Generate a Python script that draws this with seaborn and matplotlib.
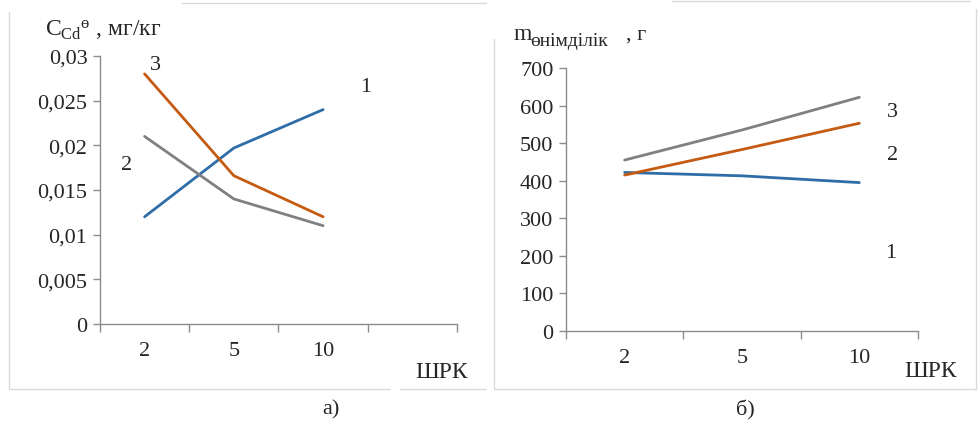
import numpy as np
import pandas as pd
import matplotlib
matplotlib.use('Agg')
import matplotlib.pyplot as plt
import seaborn as sns
from matplotlib.lines import Line2D

# data
shrk = ['2', '5', '10']
cd_1 = [0.012, 0.0197, 0.024]
cd_2 = [0.021, 0.014, 0.011]
cd_3 = [0.028, 0.0166, 0.012]
mass_1 = [422, 413, 395]
mass_2 = [415, 483, 553]
mass_3 = [455, 535, 622]
cd_ticks = [0, 0.005, 0.01, 0.015, 0.02, 0.025, 0.03]
cd_ticklabels = ['0', '0,005', '0,01', '0,015', '0,02', '0,025', '0,03']
mass_ticks = [0, 100, 200, 300, 400, 500, 600, 700]

sns.set_style('white')
plt.rcParams['font.family'] = ['Liberation Serif', 'DejaVu Serif']
plt.rcParams['mathtext.fontset'] = 'custom'
plt.rcParams['mathtext.rm'] = 'Liberation Serif'
plt.rcParams['mathtext.it'] = 'Liberation Serif:italic'

FS = 16
blue = '#2E6DA8'
orange = '#C55A11'
gray = '#808080'
axis_col = '#8C8C8C'

x = list(range(len(shrk)))
df_cd = pd.DataFrame({
    'x': x * 3,
    'val': cd_1 + cd_2 + cd_3,
    'curve': ['1'] * 3 + ['2'] * 3 + ['3'] * 3,
})
df_m = pd.DataFrame({
    'x': x * 3,
    'val': mass_1 + mass_2 + mass_3,
    'curve': ['1'] * 3 + ['2'] * 3 + ['3'] * 3,
})

fig = plt.figure(figsize=(9.79, 4.27), dpi=100)
ax1 = fig.add_axes([0.1021, 0.2389, 0.3647, 0.6276])
ax2 = fig.add_axes([0.5781, 0.2225, 0.3596, 0.6159])

sns.lineplot(data=df_cd, x='x', y='val', hue='curve', ax=ax1, legend=False,
             palette={'1': blue, '2': gray, '3': orange}, linewidth=2)
sns.lineplot(data=df_m, x='x', y='val', hue='curve', ax=ax2, legend=False,
             palette={'1': blue, '2': orange, '3': gray}, linewidth=2)


def style_axis(ax, nslots, yticks, ylabels):
    ax.set_xlim(-0.5, nslots - 0.5)
    ax.set_ylim(yticks[0], yticks[-1])
    ax.set_yticks(yticks)
    ax.set_yticklabels(ylabels, fontsize=FS)
    ax.set_xticks(np.arange(nslots + 1) - 0.5)
    ax.set_xticklabels([])
    ax.set_xticks(x, minor=True)
    ax.set_xticklabels(shrk, minor=True, fontsize=FS)
    ax.tick_params(axis='x', which='major', direction='out', length=6,
                   width=1, color=axis_col, bottom=True)
    ax.tick_params(axis='x', which='minor', length=0, pad=12)
    ax.tick_params(axis='y', direction='out', length=5, width=1,
                   color=axis_col, left=True, pad=4)
    ax.set_xlabel('')
    ax.set_ylabel('')
    for s in ['top', 'right']:
        ax.spines[s].set_visible(False)
    for s in ['left', 'bottom']:
        ax.spines[s].set_color(axis_col)
        ax.spines[s].set_linewidth(1)
    ax.patch.set_alpha(0)


style_axis(ax1, 4, cd_ticks, cd_ticklabels)
style_axis(ax2, 3, mass_ticks, [str(t) for t in mass_ticks])

# curve numbers
ax1.text(2.48, 0.0266, '1', fontsize=FS, ha='center', va='center')
ax1.text(-0.2, 0.0178, '2', fontsize=FS, ha='center', va='center')
ax1.text(0.12, 0.0291, '3', fontsize=FS, ha='center', va='center')
ax2.text(2.27, 210, '1', fontsize=FS, ha='center', va='center')
ax2.text(2.28, 471, '2', fontsize=FS, ha='center', va='center')
ax2.text(2.28, 585, '3', fontsize=FS, ha='center', va='center')

# axis titles
fig.text(45 / 979, 1 - 30 / 427, r'$\mathrm{C_{Cd}{}^{ө}}$ , мг/кг', fontsize=FS + 1,
         ha='left', va='center')
fig.text(514 / 979, 1 - 35 / 427, 'm', fontsize=FS + 1, ha='left', va='center')
fig.text(530 / 979, 1 - 41 / 427, 'өнімділік', fontsize=FS - 2, ha='left', va='center')
fig.text(626 / 979, 1 - 35 / 427, ', г', fontsize=FS, ha='left', va='center')
fig.text(442 / 979, 1 - 373 / 427, 'ШРК', fontsize=FS + 1, ha='center', va='center')
fig.text(931 / 979, 1 - 372 / 427, 'ШРК', fontsize=FS + 1, ha='center', va='center')

# captions
fig.text(331 / 979, 1 - 410 / 427, 'а)', fontsize=FS, ha='center', va='center')
fig.text(745 / 979, 1 - 410 / 427, 'б)', fontsize=FS, ha='center', va='center')

# chart area borders (partly faded in the original)
border = '#D9D9D9'
for xs, ys in [
    ([9, 9], [13, 390]), ([9, 390], [390, 390]), ([400, 486], [390, 390]),
    ([182, 486], [4, 4]),
    ([494, 494], [40, 390]), ([494, 976], [390, 390]), ([976, 976], [10, 390]),
    ([672, 970], [2, 2]),
]:
    fig.lines.append(Line2D([v / 979 for v in xs], [1 - v / 427 for v in ys],
                            transform=fig.transFigure, color=border, linewidth=1))

fig.savefig('out.png', dpi=100, facecolor='white')
